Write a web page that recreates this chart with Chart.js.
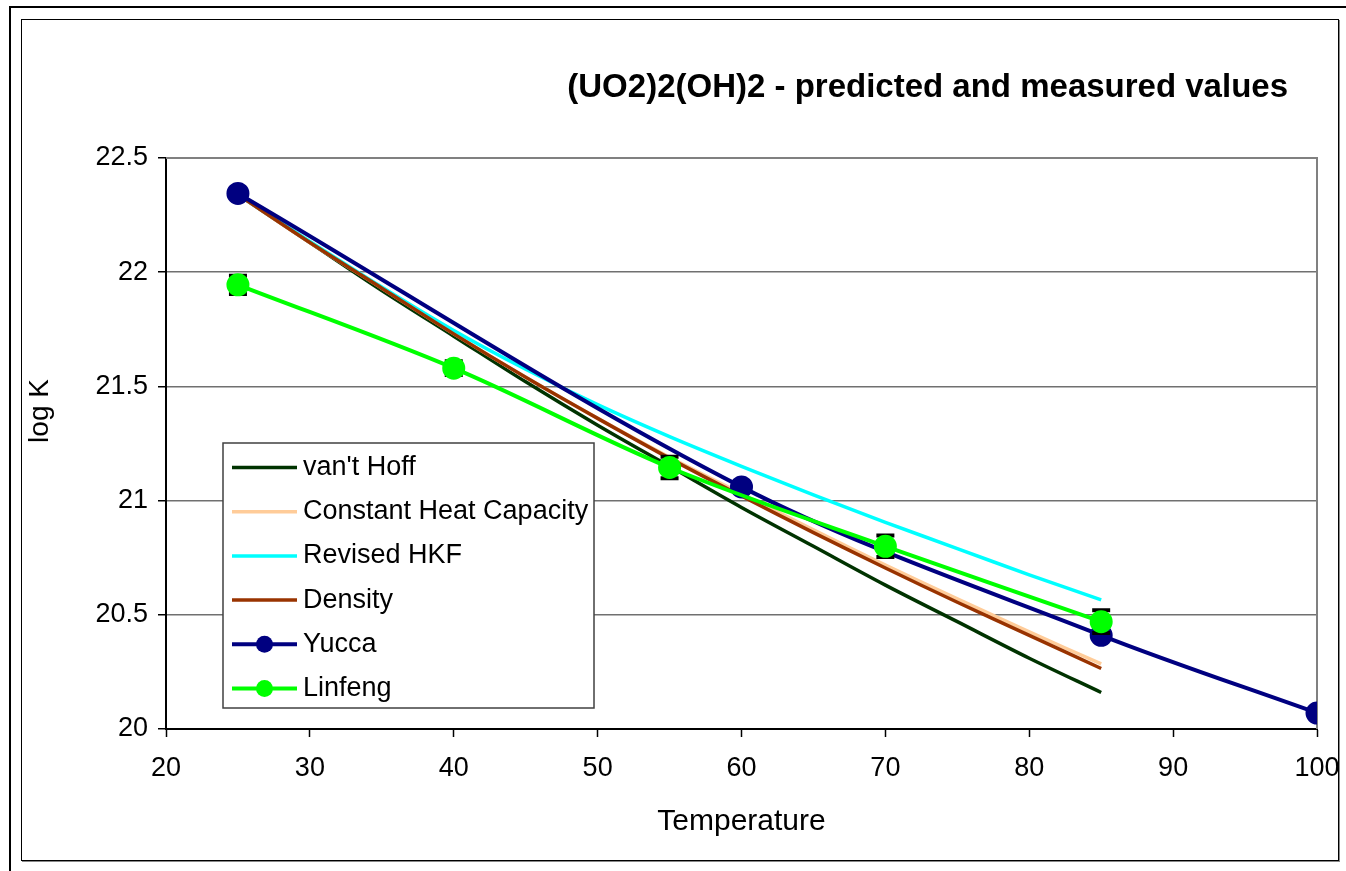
<!DOCTYPE html>
<html>
<head>
<meta charset="utf-8">
<title>(UO2)2(OH)2 - predicted and measured values</title>
<script src="https://cdn.jsdelivr.net/npm/chart.js@4.4.1/dist/chart.umd.min.js"></script>
<style>
    html, body { margin: 0; padding: 0; background: #fff; }
    #wrap { position: relative; width: 1346px; height: 871px; overflow: hidden; }
    #outer { position: absolute; left: 9px; top: 6px; width: 1400px; height: 900px; border: 2px solid #000; }
    #inner { position: absolute; left: 21px; top: 19px; width: 1316px; height: 840px; border: 1px solid #000; box-shadow: 1px 1px 0 #888; }
    #chart { position: absolute; left: 0; top: 0; }
</style>
</head>
<body>
<div id="wrap">
    <div id="outer"></div>
    <div id="inner"></div>
    <canvas id="chart" width="1346" height="871"></canvas>
</div>
<script>
// Chart data
const temps = [25, 30, 35, 40, 45, 50, 55, 60, 65, 70, 75, 80, 85];
const vantHoff = [22.34, 22.13, 21.92, 21.72, 21.52, 21.33, 21.15, 20.97, 20.80, 20.63, 20.47, 20.31, 20.16];
const constHeatCap = [22.34, 22.13, 21.93, 21.73, 21.54, 21.36, 21.19, 21.03, 20.872, 20.718, 20.57, 20.425, 20.285];
const revisedHKF = [22.34, 22.135, 21.935, 21.745, 21.575, 21.42, 21.28, 21.15, 21.025, 20.905, 20.79, 20.675, 20.565];
const density = [22.34, 22.13, 21.93, 21.73, 21.54, 21.36, 21.185, 21.02, 20.86, 20.705, 20.555, 20.41, 20.265];

const yuccaTemps = [25, 60, 85, 100];
const yucca = [22.345, 21.06, 20.41, 20.07];

const linfengTemps = [25, 40, 55, 70, 85];
const linfeng = [21.945, 21.58, 21.145, 20.80, 20.47];
const linfengErr = [0.04, 0.03, 0.047, 0.047, 0.05];

const xTicks = [20, 30, 40, 50, 60, 70, 80, 90, 100];
const yTicks = [20, 20.5, 21, 21.5, 22, 22.5];

const titleText = '(UO2)2(OH)2 - predicted and measured values';
const xTitle = 'Temperature';
const yTitle = 'log K';

const FONT = '"Liberation Sans", Arial, sans-serif';

// Helper: pair x and y arrays into points
function toPoints(xs, ys) {
    return xs.map((x, i) => ({ x: x, y: ys[i] }));
}

function lineSet(label, xs, ys, color, width, order) {
    return {
        label: label,
        data: toPoints(xs, ys),
        borderColor: color,
        backgroundColor: color,
        borderWidth: width,
        pointRadius: 0,
        tension: 0.33,
        order: order
    };
}

const datasets = [
    lineSet("van't Hoff", temps, vantHoff, '#003300', 3.5, 6),
    lineSet('Constant Heat Capacity', temps, constHeatCap, '#FFCC99', 3.5, 5),
    lineSet('Revised HKF', temps, revisedHKF, '#00FFFF', 3.5, 4),
    lineSet('Density', temps, density, '#993300', 3.5, 3),
    Object.assign(lineSet('Yucca', yuccaTemps, yucca, '#000080', 4, 2), { pointRadius: 9.5 }),
    Object.assign(lineSet('Linfeng', linfengTemps, linfeng, '#00FF00', 4, 1), { pointRadius: 9.5 })
];
const linfengIndex = 5;

// Error bars for the measured values, drawn just before the Linfeng series
const errorBars = {
    id: 'errorBars',
    beforeDatasetDraw(chart, args) {
        if (args.index !== linfengIndex) return;
        const ctx = chart.ctx;
        const xs = chart.scales.x, ys = chart.scales.y;
        ctx.save();
        ctx.strokeStyle = '#000';
        linfengTemps.forEach((t, i) => {
            const px = xs.getPixelForValue(t);
            const top = ys.getPixelForValue(linfeng[i] + linfengErr[i]);
            const bot = ys.getPixelForValue(linfeng[i] - linfengErr[i]);
            ctx.lineWidth = 2;
            ctx.beginPath();
            ctx.moveTo(px, top);
            ctx.lineTo(px, bot);
            ctx.stroke();
            ctx.lineWidth = 4;
            ctx.beginPath();
            ctx.moveTo(px - 9, top);
            ctx.lineTo(px + 9, top);
            ctx.moveTo(px - 9, bot);
            ctx.lineTo(px + 9, bot);
            ctx.stroke();
        });
        ctx.restore();
    }
};

// Grey frame on the top and right side of the plot area
const plotFrame = {
    id: 'plotFrame',
    beforeDatasetsDraw(chart) {
        const a = chart.chartArea;
        const ctx = chart.ctx;
        ctx.save();
        ctx.strokeStyle = '#808080';
        ctx.lineWidth = 2;
        ctx.beginPath();
        ctx.moveTo(a.left, a.top);
        ctx.lineTo(a.right, a.top);
        ctx.lineTo(a.right, a.bottom);
        ctx.stroke();
        ctx.restore();
    }
};

// Title, axis titles and the boxed legend, placed like the Excel original
const textsAndLegend = {
    id: 'textsAndLegend',
    afterDraw(chart) {
        const ctx = chart.ctx;
        const a = chart.chartArea;
        ctx.save();
        ctx.fillStyle = '#000';

        ctx.font = 'bold 33px ' + FONT;
        ctx.textAlign = 'right';
        ctx.textBaseline = 'middle';
        ctx.fillText(titleText, 1288, 88);

        ctx.font = '30px ' + FONT;
        ctx.textAlign = 'center';
        ctx.fillText(xTitle, (a.left + a.right) / 2, 822);

        ctx.save();
        ctx.translate(40, 411);
        ctx.rotate(-Math.PI / 2);
        ctx.font = '28px ' + FONT;
        ctx.fillText(yTitle, 0, 0);
        ctx.restore();

        // legend box
        const box = { x: 223, y: 443, w: 371, h: 265 };
        ctx.fillStyle = '#fff';
        ctx.fillRect(box.x, box.y, box.w, box.h);
        ctx.strokeStyle = '#404040';
        ctx.lineWidth = 1.5;
        ctx.strokeRect(box.x, box.y, box.w, box.h);

        ctx.font = '27px ' + FONT;
        ctx.textAlign = 'left';
        ctx.textBaseline = 'middle';
        datasets.forEach((ds, i) => {
            const y = 467.5 + i * 44.2;
            ctx.strokeStyle = ds.borderColor;
            ctx.lineWidth = ds.borderWidth;
            ctx.beginPath();
            ctx.moveTo(232, y);
            ctx.lineTo(297, y);
            ctx.stroke();
            if (ds.pointRadius > 0) {
                ctx.fillStyle = ds.backgroundColor;
                ctx.beginPath();
                ctx.arc(264.5, y, 8.5, 0, Math.PI * 2);
                ctx.fill();
            }
            ctx.fillStyle = '#000';
            ctx.fillText(ds.label, 303, y);
        });
        ctx.restore();
    }
};

const ctx = document.getElementById('chart').getContext('2d');
const chart = new Chart(ctx, {
    type: 'line',
    data: { datasets: datasets },
    plugins: [errorBars, plotFrame, textsAndLegend],
    options: {
        responsive: false,
        animation: false,
        layout: { padding: { left: 0, top: 158, right: 29, bottom: 0 } },
        plugins: {
            legend: { display: false },
            tooltip: { enabled: false },
            title: { display: false }
        },
        scales: {
            x: {
                type: 'linear',
                min: 20,
                max: 100,
                afterFit: (scale) => {
                    scale.height = 142;
                    scale.paddingLeft = 0;
                    scale.paddingRight = 0;
                },
                afterBuildTicks: (scale) => { scale.ticks = xTicks.map(v => ({ value: v })); },
                grid: { drawOnChartArea: false, drawTicks: true, tickLength: 8, tickColor: '#000', tickWidth: 1.5 },
                border: { color: '#000', width: 2 },
                ticks: { color: '#000', font: { family: FONT, size: 27 }, padding: 15, maxRotation: 0,
                    callback: (v) => String(v) }
            },
            y: {
                type: 'linear',
                min: 20,
                max: 22.5,
                afterFit: (scale) => {
                    scale.width = 166;
                    scale.paddingTop = 0;
                    scale.paddingBottom = 0;
                },
                afterBuildTicks: (scale) => { scale.ticks = yTicks.map(v => ({ value: v })); },
                grid: { color: '#707070', lineWidth: 1.5, drawTicks: true, tickLength: 8, tickColor: '#000' },
                border: { color: '#000', width: 2 },
                ticks: { color: '#000', font: { family: FONT, size: 27 }, padding: 10,
                    callback: (v) => String(v) }
            }
        }
    }
});
</script>
</body>
</html>
